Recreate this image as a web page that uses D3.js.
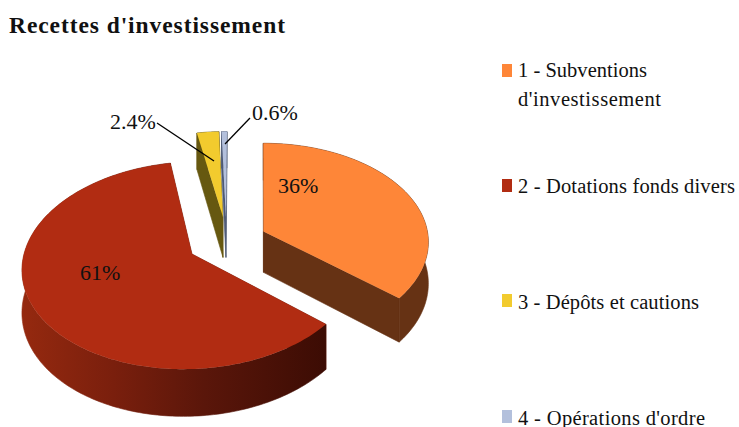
<!DOCTYPE html>
<html><head><meta charset="utf-8">
<script src="https://cdnjs.cloudflare.com/ajax/libs/d3/7.8.5/d3.min.js"></script>
<style>html,body{margin:0;padding:0;background:#fff;overflow:hidden}svg{display:block}text{font-family:"Liberation Serif",serif;fill:#111}</style>
</head><body><svg id="c" width="739" height="427"></svg>
<script>
const title = "Recettes d'investissement";
const categories = ["1 - Subventions|d'investissement","2 - Dotations fonds divers","3 - Dépôts et cautions","4 - Opérations d'ordre"];
const values = [36,61,2.4,0.6];
const valueLabels = ["36%","61%","2.4%","0.6%"];
const topColors = ["#fe8638","#b12c12","#f2cb2e","#b3c0dc"];
const wallColors = ["#663214","#7a1f0c","#665810","#4e5a76"];

const svg = d3.select("#c");
// projection of the tilted disc
const R=168, K=0.61, P=0.000655, VY=254, DEPTH=42;
const scaleAt = Y => 1/(1+P*Y);
const project = (vx,X,Y,drop=0) => { const s=scaleAt(Y); return [vx+X*s, VY-K*Y*s+drop*s]; };
// exploded position of each slice apex, in disc units, with its vanishing x
const explode = [[1.5,38,262],[-70,0,262],[-14.6,63,237],[-11.5,63,237]];

const pie = d3.pie().sort(null).value(d=>d);
const arcs = pie(values);
const line = d3.line();

const defs = svg.append("defs");
const grad = defs.append("linearGradient").attr("id","redWall").attr("gradientUnits","userSpaceOnUse")
  .attr("x1",22).attr("x2",326).attr("y1",0).attr("y2",0);
[[0,"#95290f"],[0.3,"#7a1f0d"],[0.6,"#5a160a"],[1,"#3c0c04"]].forEach(s=>grad.append("stop").attr("offset",s[0]).attr("stop-color",s[1]));

function pt(i,theta,r,drop){ const e=explode[i]; return project(e[2],e[0]+r*Math.sin(theta), e[1]+r*Math.cos(theta), drop); }
function arcPts(i,a,drop){ const n=Math.max(4,Math.ceil((a.endAngle-a.startAngle)/0.02));
  return d3.range(n+1).map(k=>pt(i,a.startAngle+(a.endAngle-a.startAngle)*k/n,R,drop)); }

const g = svg.append("g");
[0,2,3,1].forEach(i=>{
  const a=arcs[i], s=g.append("g");
  const wall = i===1 ? "url(#redWall)" : wallColors[i];
  const radial = th => line([pt(i,0,0,0),pt(i,th,R,0),pt(i,th,R,DEPTH),pt(i,0,0,DEPTH)])+"Z";
  s.append("path").attr("d",radial(a.startAngle)).attr("fill",wallColors[i]).attr("stroke",wallColors[i]).attr("stroke-width",0.6);
  s.append("path").attr("d",radial(a.endAngle)).attr("fill",wallColors[i]).attr("stroke",wallColors[i]).attr("stroke-width",0.6);
  s.append("path").attr("d",line([...arcPts(i,a,0),...arcPts(i,a,DEPTH).reverse()])+"Z").attr("fill",wall).attr("stroke",wall).attr("stroke-width",0.6);
  s.append("path").attr("d",line([pt(i,0,0,0),...arcPts(i,a,0)])+"Z").attr("fill",topColors[i]);
});

// leader lines
const leaders=[[2,[157,123],[214,161]],[3,[250,118],[225,144]]];
svg.selectAll("line.leader").data(leaders).join("line").attr("class","leader")
  .attr("x1",d=>d[1][0]).attr("y1",d=>d[1][1]).attr("x2",d=>d[2][0]).attr("y2",d=>d[2][1])
  .attr("stroke","#000").attr("stroke-width",1.3);

// value labels
const labelPos=[[278,193],[80,280],[110,129],[252,120]];
svg.selectAll("text.val").data(valueLabels).join("text").attr("class","val")
  .attr("x",(d,i)=>labelPos[i][0]).attr("y",(d,i)=>labelPos[i][1])
  .attr("font-size",22).text(d=>d);

// title
svg.append("text").attr("x",9).attr("y",33).attr("font-size",23.5).attr("font-weight","bold")
  .attr("textLength",276).attr("lengthAdjust","spacing").text(title);

// legend
const legendY=[64,179,294,410], legendBase=[77,193,309,425];
const legendWidths=[[129,143],[217],[181],[187]];
const lg=svg.append("g");
categories.forEach((c,i)=>{
  lg.append("rect").attr("x",502).attr("y",legendY[i]).attr("width",10).attr("height",13).attr("fill",topColors[i]);
  c.split("|").forEach((t,j)=>lg.append("text").attr("x",518).attr("y",legendBase[i]+j*29)
    .attr("font-size",20.5).attr("textLength",legendWidths[i][j]).attr("lengthAdjust","spacing").text(t));
});
</script></body></html>
